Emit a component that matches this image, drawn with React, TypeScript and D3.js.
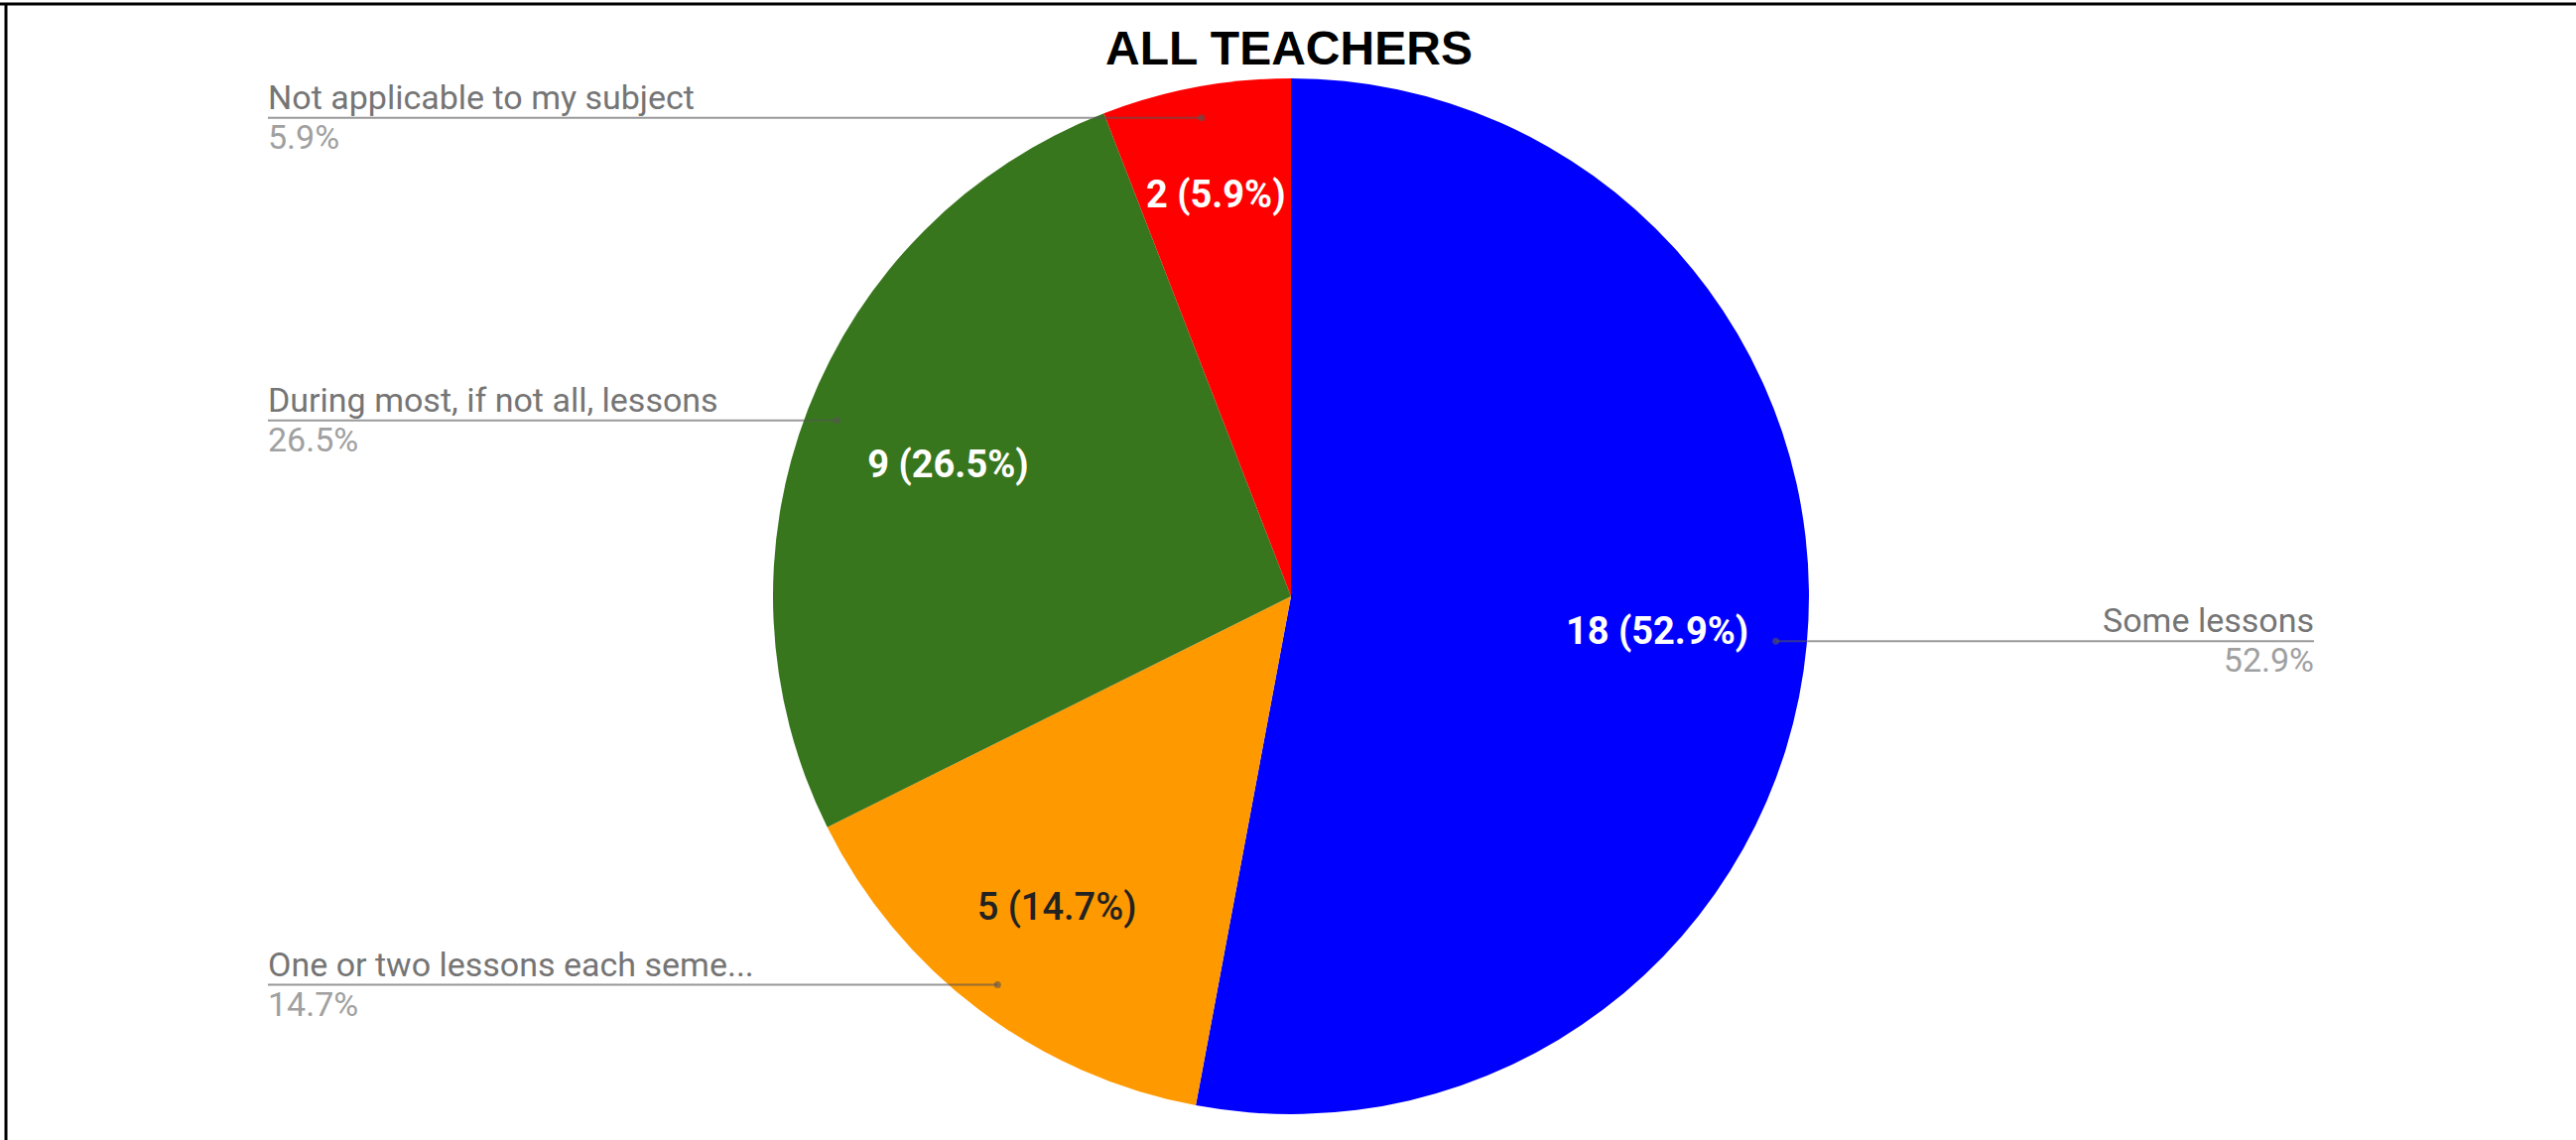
import React from 'react';
import * as d3 from 'd3';

// survey answers, in the order the slices run clockwise from 12 o'clock
const categories = [
  'Some lessons',
  'One or two lessons each seme...',
  'During most, if not all, lessons',
  'Not applicable to my subject',
];
const counts = [18, 5, 9, 2];
const colors = ['#0000ff', '#ff9900', '#38761d', '#ff0000'];
const sliceTextColors = ['#ffffff', '#222222', '#ffffff', '#ffffff'];

const W = 2596;
const H = 1149;
const cx = 1301;
const cy = 601;
const R = 522;

const App = () => {
  const total = d3.sum(counts);
  const pct = (v: number) => ((v / total) * 100).toFixed(1) + '%';

  const pie = d3.pie<number>().sort(null).value(d => d);
  const arcs = pie(counts);
  const arc = d3.arc<d3.PieArcDatum<number>>().innerRadius(0).outerRadius(R);

  const midPoint = (a: d3.PieArcDatum<number>, rr: number) => {
    const m = (a.startAngle + a.endAngle) / 2;
    return [Math.sin(m) * rr, -Math.cos(m) * rr];
  };

  // small slices push their label outwards so it fits
  const labelRadius = (a: d3.PieArcDatum<number>) => {
    const span = a.endAngle - a.startAngle;
    if (span < 0.5) return R * 0.79;
    if (span < 1.2) return R * 0.75;
    return R * 0.71;
  };

  const leftX = 270;
  const rightX = 2332;

  return (
    <svg
      width={W}
      height={H}
      style={{ position: 'absolute', left: 0, top: 0, display: 'block', background: '#fff' }}
    >
      {/* frame: only top and left edges are visible */}
      <line x1={0} x2={W} y1={4} y2={4} stroke="#000" strokeWidth={3} />
      <line x1={6} x2={6} y1={3} y2={H} stroke="#000" strokeWidth={3} />

      <text
        x={cx - 2}
        y={65}
        textAnchor="middle"
        fontFamily="'Liberation Sans', Arial, sans-serif"
        fontWeight="bold"
        fontSize={48}
        fill="#000"
      >
        ALL TEACHERS
      </text>

      <g transform={`translate(${cx},${cy})`}>
        {arcs.map((a, i) => (
          <path key={'s' + i} d={arc(a) || ''} fill={colors[i]} />
        ))}
        {arcs.map((a, i) => {
          const [x, y] = midPoint(a, labelRadius(a));
          return (
            <text
              key={'t' + i}
              x={x}
              y={y}
              dy="0.36em"
              textAnchor="middle"
              fontFamily="Roboto, 'Noto Sans', sans-serif"
              fontWeight={i === 1 ? 500 : 'bold'}
              fontSize={38}
              fill={sliceTextColors[i]}
            >
              {`${counts[i]} (${pct(counts[i])})`}
            </text>
          );
        })}
      </g>

      {/* leader lines with outside labels */}
      {arcs.map((a, i) => {
        const [dx, dy] = midPoint(a, R * 0.94);
        const px = cx + dx;
        const py = cy + dy;
        const right = dx > 0;
        const tx = right ? rightX : leftX;
        const anchor = right ? 'end' : 'start';
        return (
          <g key={'l' + i}>
            <line x1={px} x2={tx} y1={py} y2={py} stroke="#555" strokeOpacity={0.6} strokeWidth={2} />
            <circle cx={px} cy={py} r={3.5} fill="#555" fillOpacity={0.6} />
            <text
              x={tx}
              y={py - 9}
              textAnchor={anchor}
              fontFamily="Roboto, 'Noto Sans', sans-serif"
              fontSize={34}
              fill="#757575"
            >
              {categories[i]}
            </text>
            <text
              x={tx}
              y={py + 31}
              textAnchor={anchor}
              fontFamily="Roboto, 'Noto Sans', sans-serif"
              fontSize={34}
              fill="#a0a0a0"
            >
              {pct(counts[i])}
            </text>
          </g>
        );
      })}
    </svg>
  );
};

export default App;
